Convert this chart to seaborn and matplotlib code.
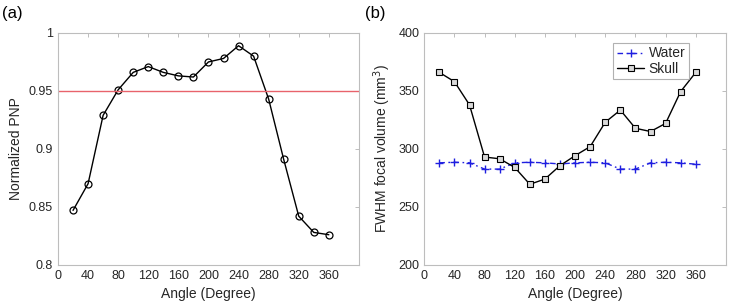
import numpy as np
import pandas as pd
import matplotlib
matplotlib.use('Agg')
import matplotlib.pyplot as plt
import seaborn as sns

# Dados
angulos = [20, 40, 60, 80, 100, 120, 140, 160, 180, 200, 220, 240, 260, 280, 300, 320, 340, 360]
pnp_normalizado = [0.847, 0.870, 0.929, 0.951, 0.966, 0.971, 0.966, 0.963, 0.962, 0.975,
                   0.978, 0.989, 0.980, 0.943, 0.891, 0.842, 0.828, 0.826]
volume_agua = [288, 288.5, 288, 282.6, 282.6, 288, 288.5, 288, 287, 288,
               288.5, 288, 282.6, 282.6, 288, 288.5, 288, 286.8]
volume_cranio = [366, 358, 338, 293, 291.5, 284, 269.5, 274, 285.6, 294.2,
                 302, 323, 333.5, 317.8, 315, 322, 349.5, 366]
limiar = 0.95
xticks = [0, 40, 80, 120, 160, 200, 240, 280, 320, 360]

sns.set_style('white')
plt.rcParams['font.family'] = ['Liberation Sans', 'DejaVu Sans']

fig = plt.figure(figsize=(7.34, 3.08), dpi=100)
ax1 = fig.add_axes([0.079, 0.14, 0.41, 0.753])
ax2 = fig.add_axes([0.578, 0.14, 0.411, 0.753])

cor_texto = '#262626'
cor_eixo = '#bdbdbd'
azul = '#1f1fe0'

# (a) PNP normalizado
sns.lineplot(x=angulos, y=pnp_normalizado, ax=ax1, color='black', linewidth=1,
             marker='o', markersize=5, markerfacecolor='none', markeredgecolor='black',
             markeredgewidth=0.9)
ax1.axhline(limiar, color='#e8636b', linewidth=1)
ax1.set_xlim(0, 400)
ax1.set_ylim(0.8, 1.0)
ax1.set_yticks([0.8, 0.85, 0.9, 0.95, 1.0])
ax1.set_yticklabels(['0.8', '0.85', '0.9', '0.95', '1'])
ax1.set_ylabel('Normalized PNP', fontsize=10, color=cor_texto)

# (b) Volume focal FWHM
sns.lineplot(x=angulos, y=volume_agua, ax=ax2, color=azul, linewidth=1,
             marker='+', markersize=6, markeredgecolor=azul, markeredgewidth=1.0,
             label='Water')
ax2.lines[-1].set_linestyle((0, (4, 2.5, 1.2, 2.5)))
sns.lineplot(x=angulos, y=volume_cranio, ax=ax2, color='black', linewidth=1,
             marker='s', markersize=4, markerfacecolor='#d9d9d9', markeredgecolor='black',
             markeredgewidth=0.8, label='Skull')
ax2.set_xlim(0, 400)
ax2.set_ylim(200, 400)
ax2.set_yticks([200, 250, 300, 350, 400])
ax2.set_ylabel('FWHM focal volume (mm$^3$)', fontsize=10, color=cor_texto)
leg = ax2.legend(loc='upper right', fontsize=10, frameon=True, fancybox=False,
                 handlelength=2.0, handletextpad=0.3, borderpad=0.25, labelspacing=0.1,
                 borderaxespad=0, bbox_to_anchor=(0.877, 0.957))
leg.get_frame().set_edgecolor('#9e9e9e')
leg.get_frame().set_linewidth(0.8)
for t in leg.get_texts():
    t.set_color(cor_texto)

for ax in (ax1, ax2):
    ax.set_xticks(xticks)
    ax.set_xlabel('Angle (Degree)', fontsize=10, color=cor_texto)
    ax.tick_params(direction='in', length=3, width=0.7, colors=cor_eixo,
                   labelcolor=cor_texto, labelsize=9, top=True, right=True)
    for s in ax.spines.values():
        s.set_color(cor_eixo)
        s.set_linewidth(0.8)
    ax.grid(False)

fig.text(0.003, 0.955, '(a)', fontsize=12, color='black', va='center')
fig.text(0.497, 0.955, '(b)', fontsize=12, color='black', va='center')

fig.savefig('out.png', dpi=100)
